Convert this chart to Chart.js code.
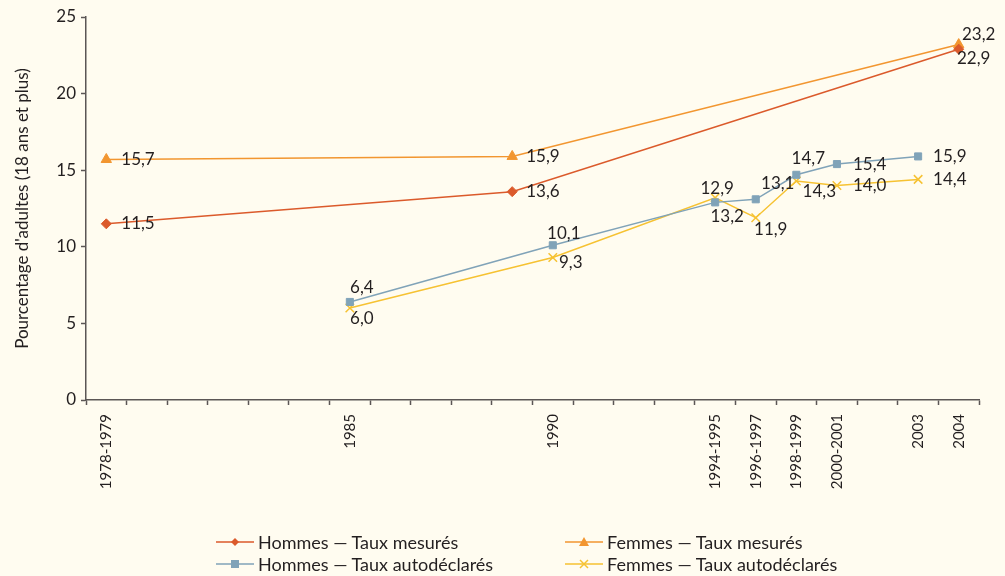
<!DOCTYPE html>
<html>
<head>
<meta charset="utf-8">
<script src="https://cdn.jsdelivr.net/npm/chart.js@4"></script>
<style>
    html, body { margin: 0; padding: 0; background: #fffcf0; }
    #wrap { position: relative; width: 1005px; height: 576px; }
    #chart { position: absolute; left: 0; top: 0; }
    .legend-item { position: absolute; display: flex; align-items: center; font-family: Lato, "DejaVu Sans", sans-serif; font-size: 18px; color: #231f20; white-space: nowrap; }
    .legend-item svg { margin-right: 4px; }
</style>
</head>
<body>
<div id="wrap">
    <canvas id="chart" width="1005" height="576"></canvas>
    <div id="legend"></div>
</div>
<script>
    // x categories (blank slots keep the original uneven spacing)
    const categories = ["1978-1979", "", "", "", "", "", "1985", "", "", "", "", "1990", "", "", "",
        "1994-1995", "1996-1997", "1998-1999", "2000-2001", "", "2003", "2004"];

    const measuredSlots = [0, 10, 21];
    const hommesMesures = [11.5, 13.6, 22.9];
    const femmesMesures = [15.7, 15.9, 23.2];

    const selfSlots = [6, 11, 15, 16, 17, 18, 20];
    const hommesAuto = [6.4, 10.1, 12.9, 13.1, 14.7, 15.4, 15.9];
    const femmesAuto = [6.0, 9.3, 13.2, 11.9, 14.3, 14.0, 14.4];

    const yTicks = [0, 5, 10, 15, 20, 25];

    const seriesNames = [
        "Hommes — Taux mesurés",
        "Femmes — Taux mesurés",
        "Hommes — Taux autodéclarés",
        "Femmes — Taux autodéclarés"
    ];

    const colors = ["#db5a2b", "#f29630", "#80a3b8", "#f6c232"];

    // value label placement per point: [dx, dy, align]
    const labelOffsets = [
        [[15, 0, "left"], [14, 0, "left"], [15, 9, "center"]],
        [[15, 0, "left"], [14, 0, "left"], [20, -10, "center"]],
        [[12, -14, "center"], [11, -12, "center"], [2, -14, "center"], [22, -16, "center"],
            [12, -16, "center"], [16, 0, "left"], [15, 0, "left"]],
        [[12, 10, "center"], [18, 5, "center"], [12, 19, "center"], [15, 12, "center"],
            [23, 11, "center"], [16, 0, "left"], [15, 0, "left"]]
    ];

    // spread values over the category slots, null elsewhere
    const toSlots = (slots, values) => {
        const arr = categories.map(() => null);
        slots.forEach((s, i) => { arr[s] = values[i]; });
        return arr;
    };
    const fmt = (v) => v.toFixed(1).replace(".", ",");
    const font = "Lato, 'DejaVu Sans', sans-serif";
    const textColor = "#231f20";
    const axisColor = "#5b5655";

    const valueLabels = {
        id: "valueLabels",
        afterDatasetsDraw(chart) {
            const ctx = chart.ctx;
            ctx.save();
            ctx.font = `17px ${font}`;
            ctx.fillStyle = textColor;
            ctx.textBaseline = "middle";
            chart.data.datasets.forEach((ds, i) => {
                const meta = chart.getDatasetMeta(i);
                let k = 0;
                meta.data.forEach((pt, j) => {
                    const v = ds.data[j];
                    if (v === null) return;
                    const [dx, dy, align] = labelOffsets[i][k++];
                    ctx.textAlign = align;
                    ctx.fillText(fmt(v), pt.x + dx, pt.y + dy);
                });
            });
            ctx.restore();
        }
    };

    const lineDs = (label, data, color, style, radius) => ({
        label,
        data,
        borderColor: color,
        backgroundColor: color,
        borderWidth: 1.5,
        pointStyle: style,
        pointRadius: radius,
        pointHoverRadius: radius,
        pointBorderWidth: style === "crossRot" ? 1.5 : 1,
        spanGaps: true,
        tension: 0
    });

    new Chart(document.getElementById("chart"), {
        type: "line",
        data: {
            labels: categories,
            datasets: [
                lineDs(seriesNames[0], toSlots(measuredSlots, hommesMesures), colors[0], "rectRot", 5),
                lineDs(seriesNames[1], toSlots(measuredSlots, femmesMesures), colors[1], "triangle", 6),
                lineDs(seriesNames[2], toSlots(selfSlots, hommesAuto), colors[2], "rect", 5),
                lineDs(seriesNames[3], toSlots(selfSlots, femmesAuto), colors[3], "crossRot", 6)
            ]
        },
        options: {
            responsive: false,
            animation: false,
            layout: { padding: { top: 17, right: 26, left: 0, bottom: 66 } },
            plugins: {
                legend: { display: false },
                tooltip: { enabled: false }
            },
            scales: {
                x: {
                    type: "category",
                    offset: true,
                    grid: {
                        offset: true,
                        drawOnChartArea: false,
                        tickLength: 5,
                        color: axisColor,
                        tickWidth: 1.5
                    },
                    border: { color: axisColor, width: 1.5 },
                    ticks: {
                        autoSkip: false,
                        minRotation: 90,
                        maxRotation: 90,
                        padding: 9,
                        color: textColor,
                        font: { family: font, size: 15 }
                    },
                    afterFit(scale) { scale.height = 110; }
                },
                y: {
                    min: 0,
                    max: 25,
                    afterBuildTicks(scale) { scale.ticks = yTicks.map((v) => ({ value: v })); },
                    grid: {
                        drawOnChartArea: false,
                        tickLength: 5,
                        color: axisColor,
                        tickWidth: 1.5
                    },
                    border: { color: axisColor, width: 1.5 },
                    ticks: {
                        padding: 5,
                        color: textColor,
                        font: { family: font, size: 17 }
                    },
                    title: {
                        display: true,
                        text: "Pourcentage d'adultes (18 ans et plus)",
                        color: textColor,
                        font: { family: font, size: 17 },
                        padding: { top: 12, bottom: 0 }
                    },
                    afterFit(scale) { scale.width = 86; }
                }
            }
        },
        plugins: [valueLabels]
    });

    // legend drawn as html, two columns like the original
    const legend = document.getElementById("legend");
    const legendPos = [[216, 531], [565, 531], [216, 553], [565, 553]];
    const markerSvg = (i) => {
        const c = colors[i];
        let m = "";
        if (i === 0) m = `<polygon points="19,1 23,5 19,9 15,5" fill="${c}"/>`;
        if (i === 1) m = `<polygon points="19,0 24,9 14,9" fill="${c}"/>`;
        if (i === 2) m = `<rect x="15" y="1" width="8" height="8" fill="${c}"/>`;
        if (i === 3) m = `<path d="M15 1 L23 9 M23 1 L15 9" stroke="${c}" stroke-width="1.5"/>`;
        return `<svg width="38" height="10"><line x1="0" y1="5" x2="38" y2="5" stroke="${c}" stroke-width="1.5"/>${m}</svg>`;
    };
    seriesNames.forEach((name, i) => {
        const div = document.createElement("div");
        div.className = "legend-item";
        div.style.left = legendPos[i][0] + "px";
        div.style.top = legendPos[i][1] + "px";
        div.innerHTML = markerSvg(i) + `<span>${name}</span>`;
        legend.appendChild(div);
    });
</script>
</body>
</html>
